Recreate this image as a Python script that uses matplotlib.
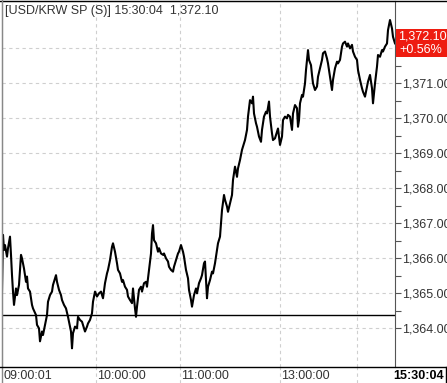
import matplotlib
matplotlib.use('Agg')
import matplotlib.pyplot as plt
from matplotlib import font_manager
from matplotlib.ticker import FixedLocator, FuncFormatter
from matplotlib.patches import Rectangle
from matplotlib.lines import Line2D

# 字体：优先使用窄体，没有就退回 Liberation Sans
names = {f.name for f in font_manager.fontManager.ttflist}
base_font = 'Liberation Sans Narrow' if 'Liberation Sans Narrow' in names else 'Liberation Sans'
plt.rcParams['font.family'] = [base_font, 'DejaVu Sans']
fs = 9

title = '[USD/KRW SP (S)] 15:30:04  1,372.10'
last_price = '1,372.10'
last_value = 1372.10
change_text = '+0.56%'
prev_close = 1364.37

# 价格刻度
major_levels = [1364, 1365, 1366, 1367, 1368, 1369, 1370, 1371, 1372]
minor_levels = [1364.5, 1365.5, 1366.5, 1367.5, 1368.5, 1369.5, 1370.5, 1371.5, 1372.5]

# 时间轴标签（按 tick 序号）
time_labels = ['09:00:01', '10:00:00', '11:00:00', '13:00:00']
time_label_pos = [0, 94, 178, 278]
extra_grid_pos = [355]
end_label = '15:30:04'
n_ticks = 393

# 价格轨迹：tick 序号 + 价格
idx_1 = [0, 1, 2, 3, 5, 6, 8, 9, 10, 11, 12, 14, 15, 17, 19, 20, 22, 24, 25, 26, 28,
         30, 31, 34, 35, 37, 38, 40, 41, 43, 45, 46, 48, 50, 51, 54, 55, 57, 59, 60, 62,
         64, 66, 67, 69, 70, 71, 73, 75, 76, 78, 80, 81, 83, 85, 86, 88, 90, 91, 93, 95, 97]
px_1 = [1365.05, 1366.66, 1366.23, 1366.37, 1366.04, 1366.28, 1366.61, 1366.09, 1365.51, 1365.04, 1364.66,
        1365.13, 1364.94, 1365.23, 1366.09, 1365.99, 1365.70, 1365.32, 1365.47, 1365.13, 1365.04,
        1364.66, 1364.56, 1364.37, 1364.09, 1363.99, 1363.62, 1363.90, 1363.80, 1364.09, 1364.37,
        1364.75, 1364.94, 1365.04, 1365.23, 1365.51, 1365.32, 1365.09, 1364.94, 1364.80, 1364.66,
        1364.56, 1364.32, 1364.18, 1363.90, 1363.42, 1363.85, 1364.04, 1363.99, 1364.32, 1364.23,
        1364.18, 1364.09, 1363.90, 1364.04, 1364.13, 1364.23, 1364.42, 1364.75, 1365.04, 1364.90,
        1364.99]

idx_2 = [99, 101, 103, 105, 106, 108, 110, 111, 113, 115, 116, 118, 120, 121, 123, 125, 126, 128,
         130, 131, 133, 134, 135, 137, 139, 140, 142, 144, 145, 147, 149, 150, 151, 152, 154, 156,
         157, 159, 161, 162, 164, 166, 167, 169, 171, 172, 174, 176, 177, 179, 181, 182, 184, 186,
         187, 189, 190, 192, 194, 195, 197, 199, 200, 202, 203]
px_2 = [1365.04, 1364.85, 1365.28, 1365.56, 1365.66, 1365.94, 1366.32, 1366.42, 1366.18, 1365.85,
        1365.66, 1365.56, 1365.32, 1365.37, 1365.18, 1365.09, 1364.90, 1364.80, 1364.71, 1365.13,
        1364.56, 1364.32, 1364.61, 1365.09, 1365.18, 1365.04, 1365.28, 1365.32, 1365.18, 1365.66,
        1366.13, 1366.70, 1366.94, 1366.51, 1366.42, 1366.18, 1366.28, 1366.13, 1366.09, 1366.13,
        1365.99, 1365.90, 1365.75, 1365.66, 1365.61, 1365.75, 1365.94, 1366.13, 1366.18, 1366.37,
        1366.18, 1366.04, 1365.66, 1365.42, 1365.09, 1364.80, 1364.61, 1364.94, 1365.13, 1364.99,
        1365.28, 1365.42, 1365.51, 1365.85, 1365.90]

idx_3 = [204, 205, 206, 208, 210, 211, 213, 215, 216, 218, 219, 220, 222, 223, 225, 226, 228,
         230, 231, 233, 235, 236, 238, 240, 241, 243, 245, 246, 248, 250, 251, 252, 254, 255,
         257, 259, 260, 262, 264, 265, 267, 268, 270, 271, 273, 275, 276, 278, 280, 281, 283,
         285, 286, 288, 290, 291, 293, 295, 296, 297]
px_3 = [1365.37, 1364.85, 1365.18, 1365.37, 1365.61, 1365.56, 1365.85, 1366.23, 1366.42, 1366.61,
        1366.99, 1367.37, 1367.80, 1367.66, 1367.47, 1367.32, 1367.56, 1367.80, 1368.23, 1368.61,
        1368.32, 1368.56, 1368.80, 1369.09, 1369.18, 1369.37, 1369.66, 1370.04, 1370.51, 1370.42,
        1370.61, 1370.13, 1369.85, 1369.75, 1369.47, 1369.32, 1369.66, 1370.04, 1370.18, 1370.13,
        1370.47, 1370.04, 1369.56, 1369.37, 1369.42, 1369.61, 1369.70, 1369.23, 1369.47, 1369.94,
        1370.04, 1369.99, 1370.09, 1370.04, 1369.66, 1370.13, 1370.37, 1370.28, 1369.75, 1369.94]

idx_4 = [298, 300, 301, 303, 304, 305, 306, 307, 309, 310, 311, 313, 315, 316, 318, 320, 321,
         323, 325, 326, 328, 330, 331, 333, 335, 336, 338, 340, 341, 343, 345, 346, 348, 350,
         351, 353, 355, 356, 358, 360, 361, 363, 365, 366, 368, 370, 371, 373, 375, 376, 378,
         380, 381, 383, 385, 386, 388, 390, 391, 393, 394]
px_4 = [1370.42, 1370.66, 1370.61, 1370.99, 1371.37, 1371.66, 1371.94, 1371.66, 1371.51, 1371.23,
        1370.99, 1370.80, 1370.90, 1371.18, 1371.42, 1371.66, 1371.85, 1371.90, 1371.70, 1371.56,
        1371.18, 1370.80, 1371.09, 1371.42, 1371.61, 1371.56, 1371.66, 1372.04, 1372.13, 1372.18,
        1372.04, 1372.13, 1371.99, 1372.09, 1371.90, 1371.75, 1371.66, 1371.37, 1371.09, 1370.85,
        1370.75, 1370.61, 1370.90, 1371.04, 1371.23, 1370.85, 1370.42, 1370.99, 1371.47, 1371.80,
        1371.75, 1371.94, 1371.90, 1372.04, 1372.13, 1372.51, 1372.80, 1372.56, 1372.32, 1372.13,
        1372.10]

idx = idx_1 + idx_2 + idx_3 + idx_4
prices = px_1 + px_2 + px_3 + px_4

W, H = 447, 383
fig = plt.figure(figsize=(W / 100, H / 100), dpi=100)
fig.patch.set_facecolor('white')

# 主图区域
ax = fig.add_axes([2 / W, 16 / H, 393.5 / W, 366 / H])
ax.set_xlim(0, n_ticks + 0.5)
ax.set_ylim(1362.886, 1373.343)

grid_c = '#cfcfcf'
for y in major_levels:
    ax.axhline(y, color=grid_c, lw=0.8, ls=(0, (3, 3)), zorder=1)
for x in time_label_pos[1:] + extra_grid_pos:
    ax.axvline(x, color=grid_c, lw=0.8, ls=(0, (3, 3)), zorder=1)

ax.axhline(prev_close, color='black', lw=1.0, zorder=2)
ax.plot(idx, prices, color='black', lw=1.5, zorder=3)

# 右侧价格轴（1,372.00 被最新价红框盖住）
ax.yaxis.tick_right()
ax.yaxis.set_major_locator(FixedLocator(major_levels))
ax.yaxis.set_minor_locator(FixedLocator(minor_levels))
ax.yaxis.set_major_formatter(FuncFormatter(lambda v, p: '' if abs(v - last_value) < 0.5 else f'{v:,.2f}'))
ax.tick_params(axis='y', which='both', direction='out', length=4, width=0.8,
               color='#555555', labelsize=fs, labelcolor='#333333', pad=1)
ax.set_xticks([])
for s in ['left', 'top']:
    ax.spines[s].set_color('#888888')
ax.spines['right'].set_color('#555555')
ax.spines['bottom'].set_visible(False)

ax.text(3, 1373.343 - 0.12, title, ha='left', va='top', fontsize=fs, color='#333333', zorder=5)

# 最新价红框
fig.patches.append(Rectangle((395.5 / W, 1 - 57 / H), 52 / W, 28 / H, transform=fig.transFigure,
                             facecolor='#ee1c10', edgecolor='none', zorder=5))
fig.text(398 / W, 1 - 36.5 / H, last_price, ha='left', va='center', fontsize=fs, color='white', zorder=6)
fig.text(421 / W, 1 - 50 / H, change_text, ha='center', va='center', fontsize=fs, color='white', zorder=6)

# 底部时间轴条
axb = fig.add_axes([2 / W, 0, 393.5 / W, 16 / H])
axb.set_xlim(0, n_ticks + 0.5)
axb.set_ylim(0, 1)
axb.axis('off')
for x in time_label_pos[1:] + extra_grid_pos:
    axb.axvline(x, color=grid_c, lw=0.8, ls=(0, (3, 3)))
for lab, x in zip(time_labels, time_label_pos):
    axb.text(x + 1, 0.45, lab, ha='left', va='center', fontsize=fs, color='#333333')
fig.text(444 / W, 0.45 * 16 / H, end_label, ha='right', va='center', fontsize=fs,
         fontweight='bold', color='black')

# 外框线
fig.lines.append(Line2D([0, 1], [1 - 0.5 / H, 1 - 0.5 / H], transform=fig.transFigure, color='black', lw=1.0))
fig.lines.append(Line2D([1.5 / W, 1.5 / W], [0, 1], transform=fig.transFigure, color='#888888', lw=1.0))
fig.lines.append(Line2D([0, 1], [16.5 / H, 16.5 / H], transform=fig.transFigure, color='black', lw=1.0))
fig.lines.append(Line2D([445.5 / W, 445.5 / W], [0, 16.5 / H], transform=fig.transFigure, color='black', lw=1.0))

fig.savefig('out.png', dpi=100)
